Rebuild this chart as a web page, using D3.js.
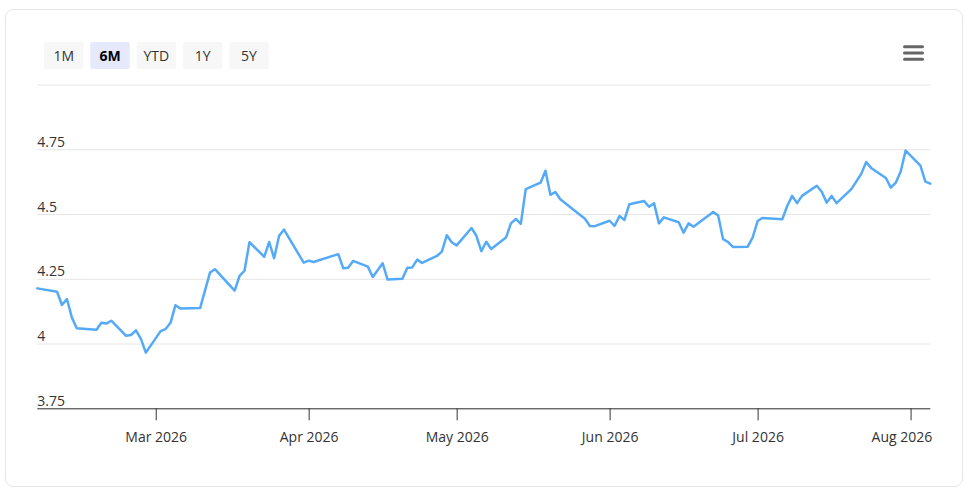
<!DOCTYPE html>
<html>
<head>
<meta charset="utf-8">
<script src="https://cdn.jsdelivr.net/npm/d3@7"></script>
<style>
  body { margin: 0; background: #fff; font-family: "Open Sans", sans-serif; }
</style>
</head>
<body>
<div id="chart"></div>
<script>
// daily closes, business days only
const dates = [
  "2026-02-05","2026-02-09","2026-02-10","2026-02-11","2026-02-12","2026-02-13",
  "2026-02-17","2026-02-18","2026-02-19","2026-02-20","2026-02-23","2026-02-24",
  "2026-02-25","2026-02-26","2026-02-27","2026-03-02","2026-03-03","2026-03-04",
  "2026-03-05","2026-03-06","2026-03-10","2026-03-12","2026-03-13","2026-03-17",
  "2026-03-18","2026-03-19","2026-03-20","2026-03-23","2026-03-24","2026-03-25",
  "2026-03-26","2026-03-27","2026-03-31","2026-04-01","2026-04-02","2026-04-07",
  "2026-04-08","2026-04-09","2026-04-10","2026-04-13","2026-04-14","2026-04-16",
  "2026-04-17","2026-04-20","2026-04-21","2026-04-22","2026-04-23","2026-04-24",
  "2026-04-27","2026-04-28","2026-04-29","2026-04-30","2026-05-01","2026-05-04",
  "2026-05-05","2026-05-06","2026-05-07","2026-05-08","2026-05-11","2026-05-12",
  "2026-05-13","2026-05-14","2026-05-15","2026-05-18","2026-05-19","2026-05-20",
  "2026-05-21","2026-05-22","2026-05-27","2026-05-28","2026-05-29","2026-06-01",
  "2026-06-02","2026-06-03","2026-06-04","2026-06-05","2026-06-08","2026-06-09",
  "2026-06-10","2026-06-11","2026-06-12","2026-06-15","2026-06-16","2026-06-17",
  "2026-06-18","2026-06-22","2026-06-23","2026-06-24","2026-06-25","2026-06-26",
  "2026-06-29","2026-06-30","2026-07-01","2026-07-02","2026-07-06","2026-07-07",
  "2026-07-08","2026-07-09","2026-07-10","2026-07-13","2026-07-14","2026-07-15",
  "2026-07-16","2026-07-17","2026-07-20","2026-07-22","2026-07-23","2026-07-24",
  "2026-07-27","2026-07-28","2026-07-29","2026-07-30","2026-07-31","2026-08-03",
  "2026-08-04","2026-08-05"
];
const values = [
  4.213,4.200,4.149,4.172,4.101,4.059,
  4.053,4.080,4.077,4.088,4.030,4.033,
  4.051,4.018,3.965,4.048,4.056,4.080,
  4.148,4.135,4.137,4.274,4.287,4.204,
  4.261,4.281,4.391,4.335,4.392,4.329,
  4.415,4.440,4.312,4.320,4.315,4.345,
  4.291,4.293,4.319,4.297,4.257,4.310,
  4.247,4.250,4.293,4.294,4.324,4.311,
  4.338,4.355,4.418,4.391,4.379,4.446,
  4.416,4.357,4.393,4.365,4.409,4.464,
  4.481,4.462,4.596,4.621,4.667,4.574,
  4.585,4.557,4.482,4.454,4.453,4.474,
  4.454,4.492,4.477,4.538,4.550,4.528,
  4.542,4.464,4.487,4.468,4.428,4.464,
  4.451,4.508,4.494,4.403,4.392,4.373,
  4.374,4.410,4.473,4.485,4.480,4.531,
  4.570,4.542,4.570,4.609,4.586,4.544,
  4.570,4.542,4.596,4.655,4.701,4.678,
  4.639,4.602,4.621,4.664,4.745,4.687,
  4.625,4.617
];
const yTicks = [3.75, 4, 4.25, 4.5, 4.75, 5];
const monthTicks = ["2026-03-01","2026-04-01","2026-05-01","2026-06-01","2026-07-01","2026-08-01"];
const rangeButtons = ["1M", "6M", "YTD", "1Y", "5Y"];
const selectedRange = "6M";
const xDomain = ["2026-02-05", "2026-08-05"];

const W = 969, H = 493;
const plot = { left: 37.3, right: 930.3, top: 84.5, bottom: 408.3 };
const parse = d3.timeParse("%Y-%m-%d");
const data = dates.map((d, i) => ({ date: parse(d), value: values[i] }));

let svg = d3.select("#chart").append("svg")
    .attr("width", W)
    .attr("height", H)
    .style("font-family", '"Open Sans", sans-serif');

// card
svg.append("rect")
    .attr("x", 5.5).attr("y", 9.5)
    .attr("width", 957).attr("height", 477)
    .attr("rx", 8)
    .attr("fill", "#fff")
    .attr("stroke", "#e6e6e6");

let x = d3.scaleTime()
    .domain(xDomain.map(parse))
    .range([plot.left, plot.right]);
let y = d3.scaleLinear()
    .domain([3.75, 5])
    .range([plot.bottom, plot.top]);

// range selector buttons
let btn = svg.append("g").selectAll("g")
    .data(rangeButtons)
    .enter()
    .append("g")
        .attr("transform", (d, i) => `translate(${44 + i * 46.3}, 42)`);
btn.append("rect")
    .attr("width", 39.5).attr("height", 27)
    .attr("rx", 2)
    .attr("fill", d => d === selectedRange ? "#e6e9fc" : "#f7f7f7");
btn.append("text")
    .attr("x", 19.75).attr("y", 18.5)
    .attr("text-anchor", "middle")
    .attr("font-size", 14)
    .attr("font-weight", d => d === selectedRange ? "bold" : "normal")
    .attr("fill", d => d === selectedRange ? "#000" : "#333")
    .text(d => d);

// menu icon
svg.append("g")
    .selectAll("line")
    .data([46.7, 53, 59.3])
    .enter()
    .append("line")
        .attr("x1", 904.5).attr("x2", 922.5)
        .attr("y1", d => d).attr("y2", d => d)
        .attr("stroke", "#666")
        .attr("stroke-width", 3)
        .attr("stroke-linecap", "round");

// Y grid + labels
let yAxis = svg.append("g")
    .attr("transform", `translate(${plot.left},0)`)
    .call(d3.axisRight(y)
        .tickValues(yTicks)
        .tickSize(plot.right - plot.left)
        .tickFormat(d => d === 5 ? "" : d3.format("")(d)));
yAxis.select(".domain").remove();
yAxis.selectAll(".tick line").attr("stroke", "#e6e6e6");
yAxis.selectAll(".tick text")
    .attr("x", 0)
    .attr("dy", -3)
    .attr("text-anchor", "start")
    .attr("font-size", 14)
    .attr("font-family", '"Open Sans", sans-serif')
    .attr("fill", "#333");

// X axis
let xAxis = svg.append("g")
    .attr("transform", `translate(0,${plot.bottom})`)
    .call(d3.axisBottom(x)
        .tickValues(monthTicks.map(parse))
        .tickSize(12)
        .tickSizeOuter(0)
        .tickFormat(d3.timeFormat("%b %Y")));
xAxis.select(".domain")
    .attr("stroke", "#333")
    .attr("d", `M${plot.left},0.5H${plot.right}`);
xAxis.selectAll(".tick line").attr("stroke", "#333");
xAxis.selectAll(".tick text")
    .attr("y", 34)
    .attr("dy", 0)
    .attr("font-size", 14)
    .attr("font-family", '"Open Sans", sans-serif')
    .attr("fill", "#333")
    .each(function(d) {
        // keep last label inside the plot
        const w = this.getComputedTextLength();
        const over = x(d) + w / 2 - (plot.right + 1.5);
        if (over > 0) d3.select(this).attr("x", -over);
    });

// the line
svg.append("path")
    .datum(data)
    .attr("fill", "none")
    .attr("stroke", "#55aaf7")
    .attr("stroke-width", 2.5)
    .attr("stroke-linejoin", "round")
    .attr("stroke-linecap", "round")
    .attr("d", d3.line()
        .x(d => x(d.date))
        .y(d => y(d.value)));
</script>
</body>
</html>
